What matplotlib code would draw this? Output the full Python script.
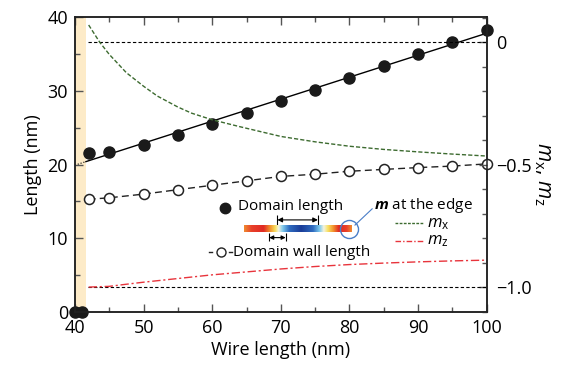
import numpy as np
import matplotlib
matplotlib.use("Agg")
import matplotlib.pyplot as plt
from matplotlib.colors import LinearSegmentedColormap
from matplotlib.ticker import MultipleLocator

plt.rcParams['font.family'] = ['Open Sans', 'DejaVu Sans']
plt.rcParams['mathtext.fontset'] = 'custom'
plt.rcParams['mathtext.it'] = 'Open Sans:italic'
plt.rcParams['mathtext.rm'] = 'Open Sans'
plt.rcParams['mathtext.bf'] = 'Open Sans:italic:bold'
plt.rcParams['axes.unicode_minus'] = True

# domain length (filled circles)
wire = [40, 41, 42, 45, 50, 55, 60, 65, 70, 75, 80, 85, 90, 95, 100]
domain_len = [0, 0, 21.6, 21.7, 22.6, 24.0, 25.5, 27.0, 28.6, 30.1, 31.7, 33.4, 35.0, 36.6, 38.2]

# domain wall length (open circles)
wall_wire = [42, 45, 50, 55, 60, 65, 70, 75, 80, 85, 90, 95, 100]
wall_len = [15.3, 15.5, 16.0, 16.6, 17.2, 17.8, 18.4, 18.7, 19.1, 19.35, 19.6, 19.8, 20.1]

# m at the edge (right axis)
mx_wire = [42, 43.6, 45, 47.5, 50, 52, 55, 57, 60, 64, 70, 75, 80, 85, 90, 95, 100]
mx = [0.07, 0.0, -0.05, -0.125, -0.18, -0.22, -0.265, -0.29, -0.317, -0.345,
      -0.385, -0.407, -0.425, -0.438, -0.448, -0.457, -0.465]
mz_wire = [42, 45, 47, 50, 55, 60, 65, 70, 75, 80, 85, 90, 95, 100]
mz = [-1.0, -0.997, -0.99, -0.98, -0.965, -0.95, -0.938, -0.926, -0.916,
      -0.908, -0.902, -0.897, -0.893, -0.89]

green = '#3d6b30'
red = '#e8343c'
blue = '#4a7ec8'

fig = plt.figure(figsize=(5.72, 3.65), dpi=100)
ax = fig.add_axes([0.131, 0.145, 0.72, 0.808])
ax2 = ax.twinx()

ax.axvspan(40, 41.6, color='#fdebc8', lw=0, zorder=0)

# linear fit of domain length
fit_x = np.array(wire[2:])
coef = np.polyfit(fit_x, np.array(domain_len[2:]), 1)
ax.plot([40, 41.6], np.polyval(coef, [40, 41.6]), color='k', lw=0.8, ls=':')
ax.plot([41.6, 100], np.polyval(coef, [41.6, 100]), color='k', lw=1.0)
ax.plot(wire, domain_len, 'o', color='#1a1a1a', ms=8, clip_on=False, zorder=5)

ax.plot(wall_wire, wall_len, color='#222222', lw=1.0, dashes=(5, 3),
        marker='o', mfc='white', mec='#222222', ms=7.2, mew=1.1, zorder=5, clip_on=False)

# right axis curves
ax2.plot([41.9, 100], [0, 0], color='k', lw=0.8, dashes=(3, 2))
ax2.plot([41.9, 100], [-1, -1], color='k', lw=0.8, dashes=(3, 2))
ax2.plot(mx_wire, mx, color=green, lw=1.0, dashes=(3, 1.5))
ax2.plot(mz_wire, mz, color=red, lw=1.0, dashes=(6, 2, 1.5, 2))

# inset legend / schematic
ax.plot([61.8], [14.15], 'o', color='#1a1a1a', ms=7.5)
ax.text(63.8, 14.3, 'Domain length', fontsize=11, va='center', ha='left')

cmap = LinearSegmentedColormap.from_list('edge', [
    (0.0, '#f08a30'), (0.07, '#e8402a'), (0.18, '#e02a24'), (0.24, '#f2902c'),
    (0.29, '#f8e060'), (0.32, '#f4f4e0'), (0.36, '#7cc8ec'), (0.42, '#2f6cc0'),
    (0.53, '#1a3c98'), (0.64, '#2f6cc0'), (0.70, '#7cc8ec'), (0.74, '#f4f4e0'),
    (0.78, '#f8e060'), (0.83, '#f2902c'), (0.88, '#e02a24'), (0.95, '#e8402a'),
    (1.0, '#f08a30')])
ax.imshow(np.linspace(0, 1, 256)[None, :], cmap=cmap, aspect='auto',
          extent=[64.7, 80.3, 10.8, 11.7], zorder=3)

ax.annotate('', xy=(69.5, 12.5), xytext=(75.4, 12.5),
            arrowprops=dict(arrowstyle='<|-|>', color='k', lw=0.8,
                            mutation_scale=7, shrinkA=0, shrinkB=0))
ax.vlines([69.5, 75.4], 11.7, 13.1, color='k', lw=0.8)
ax.annotate('', xy=(68.3, 10.1), xytext=(70.7, 10.1),
            arrowprops=dict(arrowstyle='<|-|>', color='k', lw=0.8,
                            mutation_scale=6, shrinkA=0, shrinkB=0))
ax.vlines([68.3, 70.7], 9.6, 10.7, color='k', lw=0.8)

ax.plot([59.6, 60.0], [8.1, 8.1], color='#222222', lw=1.0)
ax.plot([62.5, 62.9], [8.1, 8.1], color='#222222', lw=1.0)
ax.plot([61.3], [8.1], 'o', mfc='white', mec='#222222', ms=6.5, mew=1.0)
ax.text(63.0, 8.1, 'Domain wall length', fontsize=11, va='center', ha='left')

ax.plot([80.0], [11.3], 'o', mfc='none', mec=blue, ms=13, mew=1.0, zorder=4)
ax.plot([80.8, 83.3], [11.8, 14.0], color=blue, lw=0.8)
ax.text(83.6, 14.45, r'$\mathbf{m}$ at the edge', fontsize=11, va='center', ha='left')

ax.plot([86.7, 90.9], [12.1, 12.1], color=green, lw=1.0, dashes=(2, 1))
ax.text(91.3, 12.0, r'$m_\mathrm{x}$', fontsize=12, va='center', ha='left')
ax.plot([86.7, 90.9], [9.6, 9.6], color=red, lw=1.0, dashes=(4, 1.5, 1, 1.5))
ax.text(91.3, 9.6, r'$m_\mathrm{z}$', fontsize=12, va='center', ha='left')

# axes formatting
ax.set_xlim(40, 100)
ax.set_ylim(0, 40)
ax2.set_ylim(-1.102, 0.102)
ax.xaxis.set_major_locator(MultipleLocator(10))
ax.xaxis.set_minor_locator(MultipleLocator(5))
ax.yaxis.set_major_locator(MultipleLocator(10))
ax.yaxis.set_minor_locator(MultipleLocator(5))
ax2.set_yticks([0, -0.5, -1.0])
ax2.set_yticklabels(['0', '\u22120.5', '\u22121.0'])
ax2.yaxis.set_minor_locator(MultipleLocator(0.1))

ax.tick_params(which='both', direction='in', top=True, right=False,
               labelsize=13, width=1.0, color='#555555')
ax.tick_params(which='major', length=6)
ax.tick_params(which='minor', length=3.5)
ax.tick_params(axis='x', which='major', pad=5)
ax.tick_params(axis='y', which='major', pad=5)
ax2.tick_params(which='both', direction='in', labelsize=13, width=1.0, color='#555555')
ax2.tick_params(which='major', length=6, pad=7)
ax2.tick_params(which='minor', length=3.5)

for a in (ax, ax2):
    for s in a.spines.values():
        s.set_linewidth(1.1)
        s.set_color('#222222')

ax.set_xlabel('Wire length (nm)', fontsize=13, labelpad=3)
ax.set_ylabel('Length (nm)', fontsize=13, labelpad=4)
ax2.set_ylabel(r'$m_\mathrm{x}$, $m_\mathrm{z}$', fontsize=15, rotation=270)
ax2.yaxis.set_label_coords(1.16, 0.47)

fig.savefig('out.png', dpi=100)
